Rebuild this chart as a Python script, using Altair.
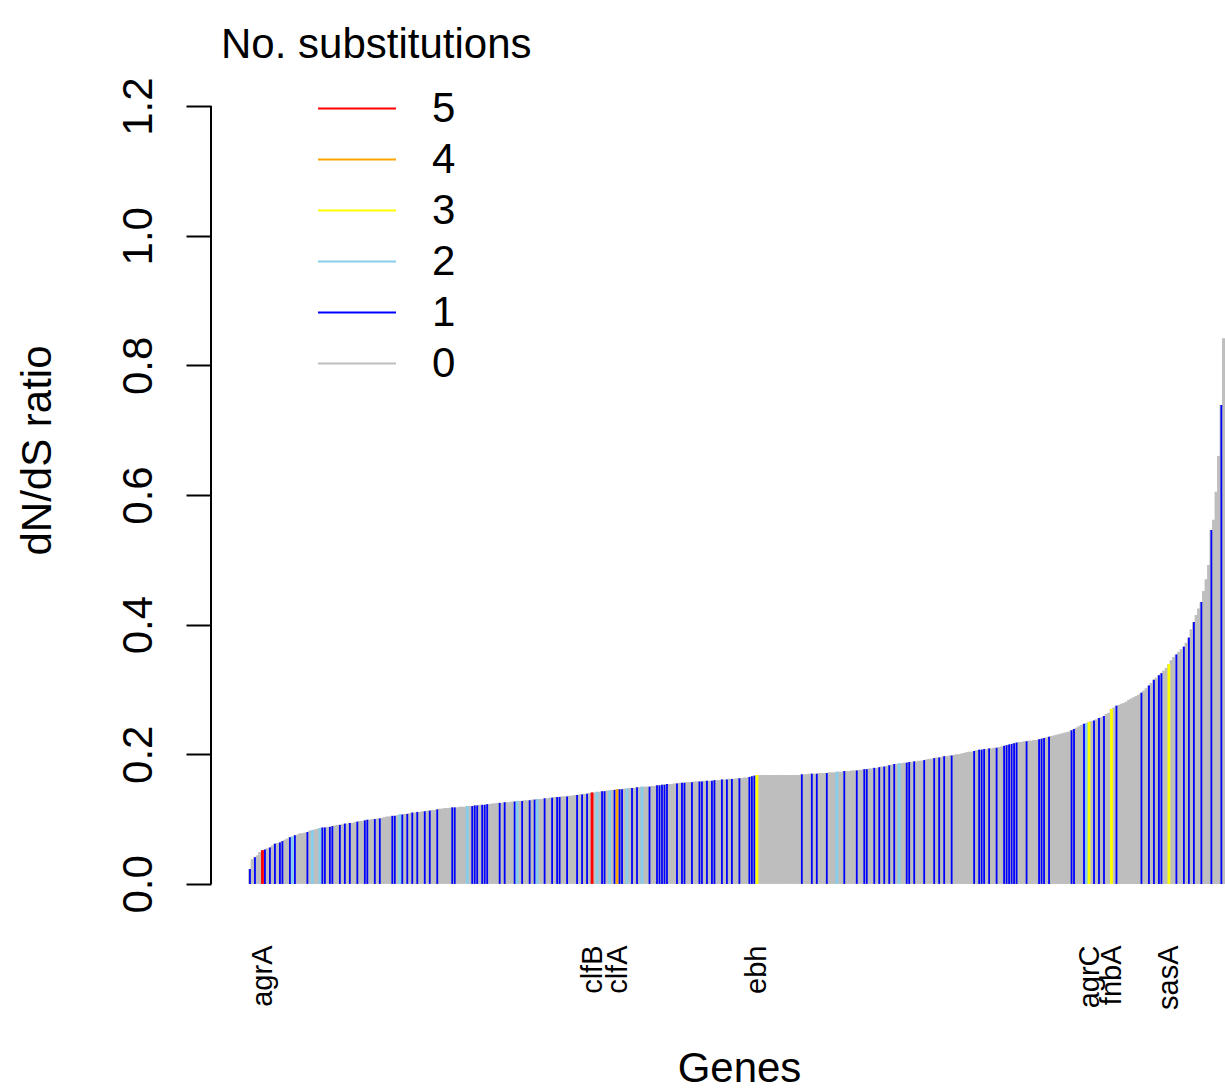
import altair as alt
import pandas as pd

FONT = "Liberation Sans"

# dN/dS ratio of each gene, sorted ascending
dnds = [
    0.023, 0.038, 0.041, 0.044, 0.049, 0.052, 0.053, 0.055, 0.056, 0.059,
    0.062, 0.063, 0.064, 0.066, 0.068, 0.070, 0.072, 0.073, 0.075, 0.076,
    0.078, 0.078, 0.079, 0.080, 0.082, 0.083, 0.084, 0.085, 0.086, 0.087,
    0.087, 0.088, 0.088, 0.089, 0.090, 0.091, 0.091, 0.092, 0.093, 0.093,
    0.094, 0.094, 0.095, 0.096, 0.097, 0.097, 0.098, 0.099, 0.099, 0.100,
    0.100, 0.101, 0.101, 0.102, 0.103, 0.104, 0.104, 0.105, 0.105, 0.106,
    0.107, 0.107, 0.108, 0.108, 0.109, 0.110, 0.110, 0.111, 0.111, 0.112,
    0.112, 0.113, 0.113, 0.114, 0.114, 0.115, 0.116, 0.116, 0.117, 0.117,
    0.117, 0.118, 0.118, 0.118, 0.119, 0.119, 0.119, 0.120, 0.120, 0.120,
    0.121, 0.121, 0.122, 0.122, 0.122, 0.123, 0.123, 0.124, 0.124, 0.125,
    0.125, 0.125, 0.126, 0.126, 0.126, 0.127, 0.127, 0.128, 0.128, 0.128,
    0.129, 0.129, 0.129, 0.130, 0.130, 0.131, 0.131, 0.131, 0.132, 0.132,
    0.133, 0.133, 0.134, 0.134, 0.134, 0.135, 0.135, 0.135, 0.136, 0.136,
    0.137, 0.137, 0.138, 0.138, 0.139, 0.139, 0.140, 0.141, 0.141, 0.142,
    0.142, 0.143, 0.143, 0.144, 0.144, 0.145, 0.145, 0.146, 0.146, 0.146,
    0.147, 0.147, 0.148, 0.148, 0.148, 0.149, 0.149, 0.150, 0.150, 0.150,
    0.150, 0.151, 0.151, 0.152, 0.152, 0.153, 0.153, 0.154, 0.154, 0.154,
    0.155, 0.155, 0.156, 0.156, 0.156, 0.157, 0.157, 0.157, 0.158, 0.158,
    0.158, 0.158, 0.159, 0.159, 0.159, 0.159, 0.160, 0.160, 0.160, 0.161,
    0.161, 0.161, 0.162, 0.162, 0.162, 0.163, 0.163, 0.163, 0.164, 0.164,
    0.165, 0.166, 0.167, 0.168, 0.168, 0.168, 0.168, 0.168, 0.168, 0.168,
    0.168, 0.168, 0.168, 0.168, 0.168, 0.168, 0.168, 0.168, 0.168, 0.168,
    0.168, 0.169, 0.169, 0.169, 0.170, 0.170, 0.170, 0.170, 0.171, 0.171,
    0.171, 0.171, 0.172, 0.172, 0.172, 0.173, 0.173, 0.173, 0.174, 0.174,
    0.174, 0.175, 0.175, 0.175, 0.176, 0.176, 0.177, 0.177, 0.178, 0.178,
    0.179, 0.179, 0.180, 0.181, 0.181, 0.182, 0.183, 0.184, 0.185, 0.185,
    0.186, 0.186, 0.187, 0.187, 0.188, 0.188, 0.189, 0.189, 0.190, 0.190,
    0.191, 0.192, 0.193, 0.193, 0.194, 0.195, 0.195, 0.196, 0.197, 0.197,
    0.198, 0.198, 0.199, 0.200, 0.200, 0.201, 0.202, 0.203, 0.204, 0.204,
    0.205, 0.206, 0.207, 0.207, 0.208, 0.208, 0.209, 0.209, 0.210, 0.210,
    0.211, 0.212, 0.213, 0.214, 0.215, 0.216, 0.217, 0.218, 0.219, 0.219,
    0.220, 0.220, 0.221, 0.221, 0.222, 0.222, 0.223, 0.224, 0.225, 0.226,
    0.227, 0.228, 0.229, 0.230, 0.231, 0.232, 0.233, 0.234, 0.235, 0.237,
    0.239, 0.241, 0.243, 0.245, 0.247, 0.248, 0.250, 0.251, 0.252, 0.254,
    0.256, 0.257, 0.259, 0.262, 0.264, 0.270, 0.272, 0.275, 0.276, 0.278,
    0.279, 0.281, 0.284, 0.286, 0.288, 0.290, 0.292, 0.295, 0.298, 0.302,
    0.306, 0.310, 0.315, 0.318, 0.322, 0.325, 0.329, 0.333, 0.339, 0.345,
    0.350, 0.354, 0.358, 0.362, 0.366, 0.372, 0.380, 0.393, 0.404, 0.415,
    0.425, 0.435, 0.452, 0.470, 0.492, 0.546, 0.562, 0.605, 0.660, 0.739,
    0.842,
]

# positions (in sorted order) of genes with 1..5 substitutions; the rest have 0
subs_1 = [
    0, 2, 6, 8, 10, 12, 13, 16, 18, 23, 29, 30, 32, 33, 36, 38, 40, 43, 46,
    47, 50, 52, 57, 58, 61, 63, 65, 67, 70, 72, 75, 81, 82, 89, 90, 91, 93,
    94, 95, 100, 102, 106, 109, 112, 114, 118, 121, 123, 124, 127, 131, 133,
    135, 141, 142, 146, 148, 149, 153, 155, 160, 163, 164, 165, 166, 167,
    171, 173, 174, 177, 180, 181, 183, 185, 186, 189, 191, 193, 196, 200,
    201, 202, 221, 225, 227, 231, 238, 243, 246, 247, 250, 252, 254, 256,
    258, 263, 264, 266, 270, 274, 276, 278, 281, 290, 292, 293, 294, 296,
    299, 302, 303, 304, 305, 306, 307, 311, 316, 317, 318, 320, 329, 330,
    334, 338, 340, 342, 347, 357, 360, 362, 364, 365, 371, 374, 376, 378,
    381, 385, 389,
]
subs_2 = [17, 25, 28, 60, 87, 107, 115, 139, 144, 151, 157, 235, 260, 335]
subs_3 = [203, 336, 345, 368]
subs_4 = [147]
subs_5 = [5, 137]

# named genes shown under the bars
label_genes = ["agrA", "clfB", "clfA", "ebh", "agrC", "fnbA", "sasA"]
label_index = [5, 137, 147, 203, 336, 345, 368]

subs_levels = [5, 4, 3, 2, 1, 0]
subs_colors = ["#FF0000", "#FFA500", "#FFFF00", "#87CEEB", "#0000FF", "#BEBEBE"]
y_ticks = [0.0, 0.2, 0.4, 0.6, 0.8, 1.0, 1.2]

subs = [0] * len(dnds)
for level, members in ((1, subs_1), (2, subs_2), (3, subs_3), (4, subs_4), (5, subs_5)):
    for i in members:
        subs[i] = level

genes = pd.DataFrame({"idx": list(range(len(dnds))), "dnds": dnds, "subs": subs})
mutated = genes[genes["subs"] > 0]
axis_line = pd.DataFrame({"dnds": [min(y_ticks)], "top": [max(y_ticks)]})

n = len(dnds)
pad = 0.04 * (n - 1)
x_scale = alt.Scale(domain=[-pad, n - 1 + 0.46], nice=False, zero=False)
y_scale = alt.Scale(domain=[-0.048, 1.248], nice=False, zero=False)

label_expr = " : ".join(
    f"datum.value == {i} ? '{g}'" for i, g in zip(label_index, label_genes)
) + " : ''"

BIG = 42

x_axis = alt.Axis(
    values=label_index, labelExpr=label_expr, labelAngle=270,
    labelAlign="right", labelBaseline="middle", labelFontSize=29,
    labelPadding=30, labelOverlap=False, labelFlush=False,
    ticks=False, tickSize=0, domain=False, grid=False,
    title="Genes", titleFontSize=BIG, titleFontWeight="normal",
    titleX=528, titleY=166, titleBaseline="alphabetic", titleAlign="center",
)
y_axis = alt.Axis(
    values=y_ticks, format=".1f", labelAngle=270, labelAlign="center",
    labelBaseline="alphabetic", labelFontSize=BIG, labelPadding=35,
    tickSize=25, tickWidth=2, tickColor="black", domain=False, grid=False,
    title="dN/dS ratio", titleFontSize=BIG, titleFontWeight="normal",
    titleAngle=270, titleAlign="center", titleBaseline="alphabetic",
    titleX=-161, titleY=375,
)

x_enc = alt.X("idx:Q", scale=x_scale, axis=x_axis)
y_enc = alt.Y("dnds:Q", scale=y_scale, axis=y_axis)

# every gene as a grey line; wide enough that neighbours merge into a solid fill
base_bars = alt.Chart(genes).mark_rule(clip=True).encode(
    x=x_enc, y=y_enc, y2=alt.datum(0),
    color=alt.value("#BEBEBE"), strokeWidth=alt.value(3.6),
)

# genes carrying substitutions, drawn on top in their level colour
color_bars = alt.Chart(mutated).mark_rule(clip=True).encode(
    x=x_enc, y=y_enc, y2=alt.datum(0),
    color=alt.Color(
        "subs:O",
        scale=alt.Scale(domain=subs_levels, range=subs_colors),
        legend=alt.Legend(
            title=None, orient="none", legendX=106, legendY=8,
            direction="vertical", values=subs_levels,
            symbolType="stroke", symbolSize=6084, symbolStrokeWidth=2,
            labelFontSize=BIG, labelColor="black", labelOffset=35,
            labelBaseline="middle", clipHeight=51, rowPadding=0, padding=0,
        ),
    ),
    strokeWidth=alt.condition("datum.subs >= 2", alt.value(2.8), alt.value(1.8)),
)

y_line = alt.Chart(axis_line).mark_rule(color="black", strokeWidth=2).encode(
    x=alt.value(0), y=y_enc, y2="top:Q",
)

chart = (
    alt.layer(base_bars, color_bars, y_line)
    .properties(
        width=1014, height=840,
        autosize=alt.AutoSizeParams(type="none"),
        padding={"left": 211, "top": 75, "right": 0, "bottom": 176},
        title=alt.TitleParams(
            "No. substitutions", anchor="start", frame="group", fontSize=BIG,
            fontWeight="normal", color="black", baseline="alphabetic",
            offset=17, dx=10, dy=42,
        ),
    )
    .configure_view(strokeWidth=0)
    .configure_axis(labelFont=FONT, titleFont=FONT, labelColor="black", titleColor="black")
    .configure_legend(labelFont=FONT)
    .configure_title(font=FONT)
)

chart.save("out.html", embed_options={"renderer": "svg", "actions": False})
